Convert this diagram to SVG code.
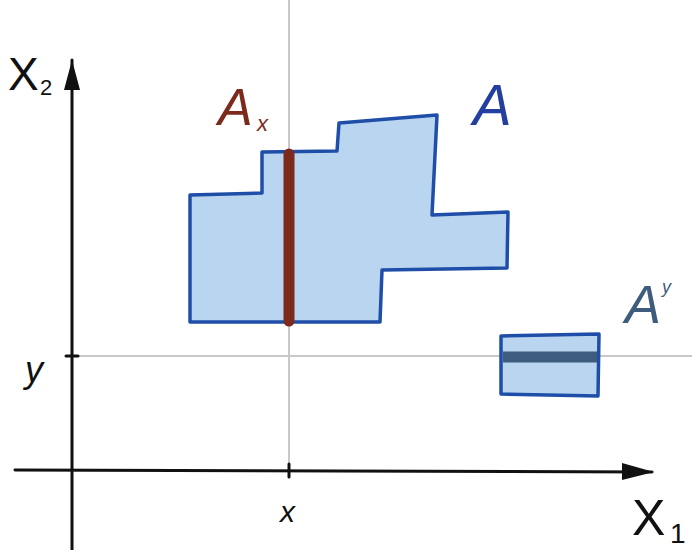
<svg xmlns="http://www.w3.org/2000/svg" width="692" height="550" viewBox="0 0 692 550">
<style>
.guide{stroke:#c8c8c8;stroke-width:2;fill:none}
.axis{stroke:#111;stroke-width:3;fill:none;stroke-linecap:round}
.region{fill:#b9d5ef;stroke:#1f4ea8;stroke-width:3.5;stroke-linejoin:round}
.lbl{font-family:"Liberation Sans",Arial,sans-serif}
</style>
<rect width="692" height="550" fill="#fff"/>
<g id="guides">
<line class="guide" x1="289" y1="0" x2="289" y2="470"/>
<line class="guide" x1="72" y1="356" x2="692" y2="356"/>
</g>
<g id="axes">
<line class="axis" x1="72" y1="60" x2="72" y2="550"/>
<line class="axis" x1="15" y1="470" x2="652" y2="472"/>
<path d="M72 60 L64 90 L80 90 Z" fill="#111"/>
<path d="M654 472 L622 463 L622 480 Z" fill="#111"/>
<line class="axis" x1="66" y1="356" x2="78" y2="356"/>
<line class="axis" x1="289" y1="464" x2="289" y2="477"/>
</g>
<g id="A">
<path class="region" d="M190 195 L262 193 L262 152 L337 151 L339 123 L437 115 L432 215 L508 212 L507 268 L382 270 L380 322 L190 322 Z"/>
</g>
<g id="Ax">
<line x1="289" y1="154" x2="289" y2="321" stroke="#7b2a1c" stroke-width="11" stroke-linecap="round"/>
</g>
<g id="Ay">
<path class="region" d="M501 336 L599 334 L598 396 L501 394 Z"/>
<line x1="503" y1="357" x2="597" y2="357" stroke="#3e5c7e" stroke-width="11"/>
</g>
<g id="labels">
<text class="lbl" x="8" y="90" font-size="46" fill="#111">X</text>
<text class="lbl" x="40" y="95" font-size="22" fill="#111">2</text>
<text class="lbl" x="218" y="125" font-size="52" fill="#7b2a1c" font-style="italic">A</text>
<text class="lbl" x="257" y="131" font-size="22" fill="#7b2a1c" font-style="italic">x</text>
<text class="lbl" x="473" y="125" font-size="58" fill="#2340a0" font-style="italic">A</text>
<text class="lbl" x="625" y="323" font-size="54" fill="#3e5c7e" font-style="italic">A</text>
<text class="lbl" x="662" y="293" font-size="18" fill="#3e5c7e" font-style="italic">y</text>
<text class="lbl" x="25" y="382" font-size="36" fill="#111" font-style="italic">y</text>
<text class="lbl" x="280" y="522" font-size="30" fill="#111" font-style="italic">x</text>
<text class="lbl" x="632" y="535" font-size="50" fill="#111">X</text>
<text class="lbl" x="670" y="543" font-size="28" fill="#111">1</text>
</g>
</svg>
